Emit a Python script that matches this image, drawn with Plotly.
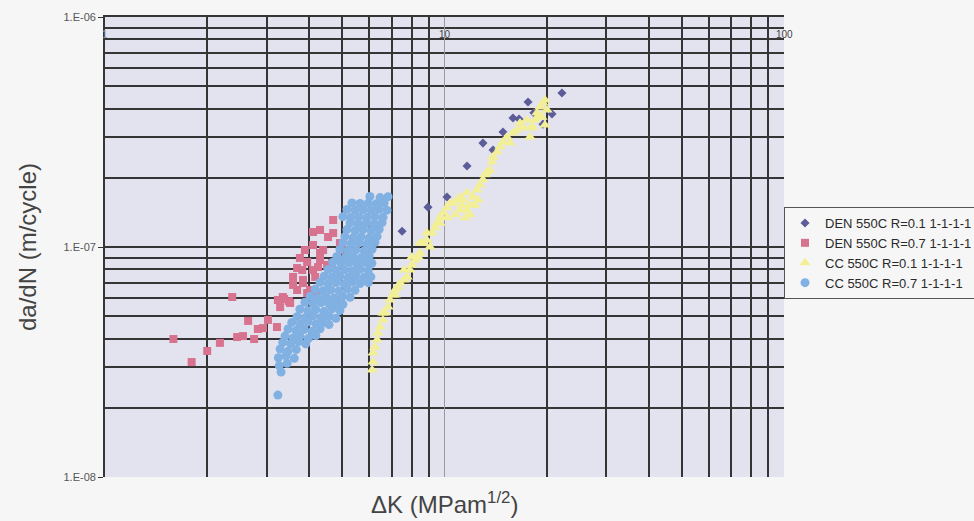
import math
import plotly.graph_objects as go

# Crack growth rate da/dN (m/cycle) against stress intensity range dK (MPa m^1/2)

# DEN 550C R=0.1
den01_dk = [7.50, 8.94, 10.17, 11.65, 12.98, 13.90, 14.87, 15.91, 16.58, 17.62,
            18.34, 19.50, 20.73, 22.18]
den01_rate = [1.17e-7, 1.49e-7, 1.65e-7, 2.25e-7, 2.83e-7, 2.64e-7, 3.16e-7, 3.64e-7,
              3.60e-7, 4.27e-7, 3.83e-7, 3.42e-7, 3.79e-7, 4.67e-7]

# DEN 550C R=0.7
den07_dk = [1.59, 1.80, 2.00, 2.18, 2.37, 2.45, 2.55, 2.64, 2.75, 2.82, 2.92, 3.02,
            3.21, 3.28, 3.37, 3.48, 3.51, 3.58, 3.68, 3.81, 3.83, 3.94, 4.02, 4.10,
            4.16, 4.21, 4.24, 4.30, 4.30, 4.39, 4.51, 4.54, 4.66, 4.70, 4.70, 4.83,
            4.92, 5.02, 4.10, 4.30, 4.10, 3.88, 3.75, 3.94, 3.68, 3.83, 3.58, 3.34,
            3.23]
den07_rate = [3.98e-8, 3.16e-8, 3.53e-8, 3.83e-8, 6.06e-8, 4.06e-8, 4.10e-8, 4.77e-8,
              3.98e-8, 4.40e-8, 4.44e-8, 4.82e-8, 4.49e-8, 5.48e-8, 5.94e-8, 5.82e-8,
              5.71e-8, 7.41e-8, 6.50e-8, 7.94e-8, 6.97e-8, 6.31e-8, 6.50e-8, 7.94e-8,
              7.41e-8, 6.31e-8, 8.18e-8, 9.42e-8, 8.78e-8, 9.70e-8, 8.35e-8, 1.105e-7,
              8.52e-8, 1.15e-7, 1.31e-7, 8.78e-8, 1.04e-7, 9.70e-8, 1.162e-7, 1.186e-7,
              1.02e-7, 9.70e-8, 8.96e-8, 8.61e-8, 8.10e-8, 7.19e-8, 6.84e-8, 6.06e-8,
              5.88e-8]

# CC 550C R=0.1
cc01_dk = [6.12, 6.16, 6.16, 6.24, 6.33, 6.37, 6.46, 6.59, 6.68, 6.82, 6.91, 7.05,
           7.15, 7.30, 7.40, 7.60, 7.76, 7.91, 8.02, 8.19, 8.36, 8.47, 8.64, 8.88,
           9.06, 9.19, 9.38, 9.50, 9.70, 9.90, 10.17, 10.38, 10.59, 10.88, 11.11,
           11.34, 11.65, 11.65, 11.89, 12.13, 12.47, 12.72, 12.98, 13.16, 13.34,
           13.61, 13.80, 13.90, 14.28, 14.57, 14.87, 15.28, 15.60, 15.91, 16.35,
           16.69, 17.03, 17.50, 17.86, 17.86, 18.23, 18.49, 18.73, 18.73, 19.11,
           19.37, 19.50, 19.77, 20.04, 19.77, 10.74, 11.11, 11.49, 11.89, 12.30,
           12.56, 11.26, 9.70, 10.17, 8.88, 8.47, 7.60, 8.02, 7.15, 6.59]
cc01_rate = [2.92e-8, 3.16e-8, 3.46e-8, 3.67e-8, 3.94e-8, 4.23e-8, 4.49e-8, 4.82e-8,
             5.16e-8, 5.48e-8, 5.88e-8, 6.18e-8, 6.50e-8, 6.70e-8, 6.97e-8, 7.19e-8,
             7.41e-8, 7.94e-8, 8.35e-8, 8.78e-8, 9.05e-8, 9.42e-8, 1.04e-7, 1.07e-7,
             1.00e-7, 1.15e-7, 1.21e-7, 1.27e-7, 1.34e-7, 1.41e-7, 1.48e-7, 1.55e-7,
             1.55e-7, 1.60e-7, 1.65e-7, 1.60e-7, 1.72e-7, 1.45e-7, 1.52e-7, 1.65e-7,
             1.77e-7, 1.86e-7, 1.96e-7, 2.06e-7, 2.12e-7, 2.16e-7, 2.34e-7, 2.46e-7,
             2.59e-7, 2.72e-7, 2.86e-7, 3.01e-7, 2.83e-7, 3.13e-7, 3.23e-7, 3.46e-7,
             3.32e-7, 3.57e-7, 3.01e-7, 3.29e-7, 3.32e-7, 3.57e-7, 3.83e-7, 3.67e-7,
             4.06e-7, 3.67e-7, 4.23e-7, 4.36e-7, 3.94e-7, 3.39e-7, 1.38e-7, 1.45e-7,
             1.34e-7, 1.38e-7, 1.52e-7, 1.60e-7, 1.52e-7, 1.27e-7, 1.34e-7, 1.15e-7,
             1.04e-7, 7.94e-8, 9.05e-8, 6.18e-8, 5.16e-8]

# CC 550C R=0.7
cc07_dk = [3.23, 3.30, 3.26, 3.44, 3.24, 3.41, 3.61, 3.28, 3.46, 3.66,
           3.34, 3.52, 3.72, 3.90, 3.39, 3.58, 3.75, 3.97, 4.18,
           3.46, 3.65, 3.86, 4.07, 4.30, 3.55, 3.75, 3.96, 4.18, 4.39, 4.57,
           3.68, 3.88, 4.10, 4.33, 4.57, 4.79, 3.75, 3.96, 4.18, 4.42, 4.67, 4.92,
           3.88, 4.10, 4.33, 4.57, 4.83, 5.02, 4.02, 4.24, 4.48, 4.73, 5.00, 5.27,
           4.16, 4.39, 4.63, 4.89, 5.17, 5.45, 4.30, 4.54, 4.80, 5.07, 5.35, 5.64, 5.96,
           4.42, 4.66, 4.92, 5.20, 5.49, 5.80, 6.07, 4.54, 4.79, 5.07, 5.35, 5.64, 5.96,
           4.69, 4.96, 5.24, 5.53, 5.84, 6.11, 4.82, 5.10, 5.38, 5.68, 6.00,
           4.92, 5.20, 5.49, 5.80, 6.12, 5.02, 5.30, 5.60, 5.91, 6.24,
           5.09, 5.38, 5.68, 6.00, 6.33, 5.16, 5.45, 5.76, 6.08, 6.42,
           5.27, 5.56, 5.88, 6.20, 6.55, 5.02, 5.30, 5.60, 5.91, 6.24, 6.59,
           5.16, 5.45, 5.76, 6.08, 6.42, 6.77, 5.34, 5.64, 5.96, 6.29, 6.64,
           6.03, 6.46, 6.82]
cc07_rate = [2.27e-8, 2.86e-8, 3.05e-8, 3.12e-8, 3.30e-8, 3.36e-8, 3.28e-8, 3.60e-8, 3.52e-8, 3.58e-8,
             3.85e-8, 3.80e-8, 3.88e-8, 3.79e-8, 4.10e-8, 4.02e-8, 4.08e-8, 4.00e-8, 4.12e-8,
             4.40e-8, 4.33e-8, 4.38e-8, 4.30e-8, 4.41e-8, 4.70e-8, 4.62e-8, 4.72e-8, 4.64e-8, 4.69e-8, 4.60e-8,
             4.98e-8, 4.92e-8, 5.02e-8, 4.94e-8, 5.00e-8, 4.90e-8, 5.36e-8, 5.28e-8, 5.34e-8, 5.26e-8, 5.38e-8, 5.30e-8,
             5.75e-8, 5.68e-8, 5.74e-8, 5.66e-8, 5.72e-8, 5.64e-8, 6.10e-8, 6.02e-8, 6.08e-8, 6.00e-8, 6.12e-8, 6.04e-8,
             6.55e-8, 6.46e-8, 6.52e-8, 6.44e-8, 6.56e-8, 6.48e-8, 7.02e-8, 6.92e-8, 7.00e-8, 6.90e-8, 7.04e-8, 6.94e-8, 7.00e-8,
             7.46e-8, 7.38e-8, 7.44e-8, 7.36e-8, 7.48e-8, 7.38e-8, 7.42e-8, 7.98e-8, 7.90e-8, 7.96e-8, 7.88e-8, 8.00e-8, 7.92e-8,
             8.58e-8, 8.48e-8, 8.55e-8, 8.46e-8, 8.58e-8, 8.50e-8, 9.10e-8, 9.00e-8, 9.08e-8, 8.98e-8, 9.12e-8,
             9.75e-8, 9.65e-8, 9.72e-8, 9.62e-8, 9.78e-8, 1.045e-7, 1.035e-7, 1.043e-7, 1.032e-7, 1.048e-7,
             1.110e-7, 1.098e-7, 1.108e-7, 1.096e-7, 1.112e-7, 1.19e-7, 1.18e-7, 1.19e-7, 1.18e-7, 1.195e-7,
             1.275e-7, 1.265e-7, 1.272e-7, 1.262e-7, 1.278e-7, 1.355e-7, 1.345e-7, 1.352e-7, 1.342e-7, 1.356e-7, 1.346e-7,
             1.455e-7, 1.445e-7, 1.452e-7, 1.442e-7, 1.458e-7, 1.446e-7, 1.555e-7, 1.545e-7, 1.552e-7, 1.542e-7, 1.556e-7,
             1.66e-7, 1.64e-7, 1.655e-7]

series_names = ["DEN 550C R=0.1 1-1-1-1", "DEN 550C R=0.7 1-1-1-1",
                "CC 550C R=0.1 1-1-1-1", "CC 550C R=0.7 1-1-1-1"]

# axis ticks
x_major = [1, 10, 100]
x_major_text = ["1", "10", "100"]
x_minor = [2, 3, 4, 5, 6, 7, 8, 9, 20, 30, 40, 50, 60, 70, 80, 90]
y_major = [1e-8, 1e-7, 1e-6]
y_major_text = ["1.E-08", "1.E-07", "1.E-06"]
y_minor = [2e-8, 3e-8, 4e-8, 5e-8, 6e-8, 7e-8, 8e-8, 9e-8,
           2e-7, 3e-7, 4e-7, 5e-7, 6e-7, 7e-7, 8e-7, 9e-7]

FONT = "Liberation Sans, Arial, sans-serif"
GRID = "#353535"

fig = go.Figure()
fig.add_trace(go.Scatter(x=den01_dk, y=den01_rate, mode="markers", name=series_names[0],
                         marker=dict(symbol="diamond", size=7, color="#5c5c98")))
fig.add_trace(go.Scatter(x=den07_dk, y=den07_rate, mode="markers", name=series_names[1],
                         marker=dict(symbol="square", size=8, color="#d7728f")))
fig.add_trace(go.Scatter(x=cc01_dk, y=cc01_rate, mode="markers", name=series_names[2],
                         marker=dict(symbol="triangle-up", size=10, color="#f3ef96")))
fig.add_trace(go.Scatter(x=cc07_dk, y=cc07_rate, mode="markers", name=series_names[3],
                         marker=dict(symbol="circle", size=9, color="#80b1e2")))

fig.update_layout(
    width=974, height=521,
    margin=dict(l=105, r=190, t=17, b=44, autoexpand=False),
    paper_bgcolor="#f6f6f6",
    plot_bgcolor="#e3e3ef",
    font=dict(family=FONT, color="#333333"),
    showlegend=True,
    legend=dict(x=1.0, xanchor="left", y=0.587, yanchor="top",
                bgcolor="#f6f6f6", bordercolor="#555555", borderwidth=1,
                font=dict(family=FONT, size=13, color="#2a2a2a"),
                itemwidth=30, tracegroupgap=0),
    xaxis=dict(type="log", range=[0, 2], side="top",
               tickmode="array", tickvals=x_major, showticklabels=False,
               ticks="",
               showgrid=True, gridcolor="#9a9a9a", gridwidth=1,
               minor=dict(tickmode="array", tickvals=x_minor, showgrid=True,
                          gridcolor=GRID, gridwidth=1.8, ticks=""),
               showline=True, linecolor=GRID, linewidth=1.5,
               zeroline=False, fixedrange=True),
    yaxis=dict(type="log", range=[-8, -6],
               tickmode="array", tickvals=y_major, ticktext=y_major_text,
               ticks="outside", ticklen=5, tickcolor=GRID,
               tickfont=dict(family=FONT, size=11, color="#555555"),
               showgrid=True, gridcolor=GRID, gridwidth=1.6,
               minor=dict(tickmode="array", tickvals=y_minor, showgrid=True,
                          gridcolor=GRID, gridwidth=1.6, ticks=""),
               showline=True, linecolor=GRID, linewidth=1.8,
               title=dict(text="da/dN (m/cycle)", standoff=20,
                          font=dict(family=FONT, size=24, color="#444444")),
               zeroline=False, fixedrange=True),
)

# decade labels of the dK axis, just under the top edge
label_colors = ["#9a9a9a", "#444444", "#444444"]
for v, t, c in zip(x_major, x_major_text, label_colors):
    fig.add_annotation(text=t, xref="x", yref="paper", x=math.log10(v), y=1,
                       xanchor="center", yanchor="top", yshift=-10, showarrow=False,
                       font=dict(family=FONT, size=10, color=c))

# horizontal axis title placed under the plot
fig.add_annotation(text="\u0394K (MPam<sup>1/2</sup>)", xref="paper", yref="paper",
                   x=0.5, y=-0.057, xanchor="center", yanchor="middle", showarrow=False,
                   font=dict(family=FONT, size=24, color="#444444"))

fig.write_html("out.html")
